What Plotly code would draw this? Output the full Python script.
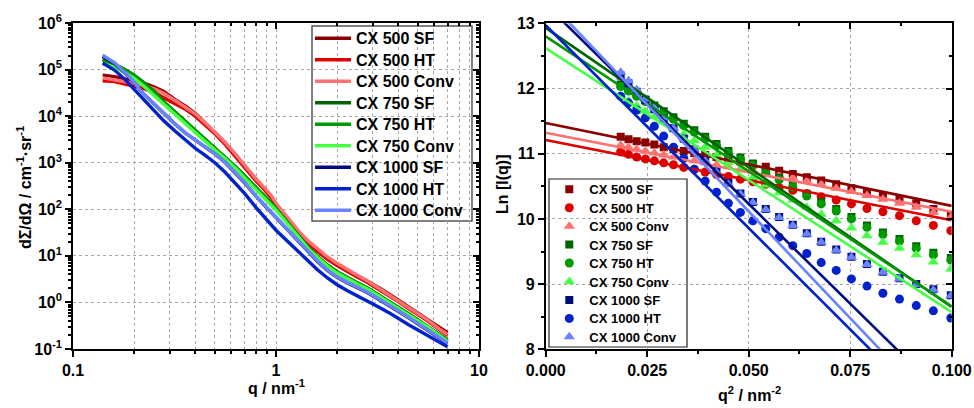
import numpy as np
import plotly.graph_objects as go

W, H = 974, 408

# ---------------- data: left panel (SAXS curves) ----------------
q_left = [0.14, 0.16, 0.18, 0.20, 0.22, 0.25, 0.28, 0.32, 0.36, 0.40, 0.45, 0.50, 0.56, 0.63,
          0.70, 0.80, 0.87, 0.95, 1.00, 1.10, 1.20, 1.30, 1.45, 1.60, 1.80, 2.00, 2.25, 2.50,
          2.80, 3.20, 3.60, 4.00, 4.50, 5.00, 5.60, 6.30, 7.00]

# log10 of dSigma/dOmega (cm^-1 sr^-1)
log_500sf = [4.88, 4.85, 4.80, 4.76, 4.72, 4.63, 4.53, 4.35, 4.21, 4.06, 3.85, 3.65, 3.43, 3.17,
             2.92, 2.62, 2.46, 2.26, 2.10, 1.86, 1.65, 1.48, 1.27, 1.12, 0.95, 0.82, 0.69, 0.58,
             0.47, 0.32, 0.18, 0.05, -0.10, -0.22, -0.36, -0.52, -0.65]
log_500ht = [4.76, 4.74, 4.69, 4.65, 4.60, 4.51, 4.40, 4.26, 4.14, 4.00, 3.81, 3.62, 3.40, 3.15,
             2.90, 2.60, 2.44, 2.24, 2.08, 1.85, 1.64, 1.46, 1.25, 1.09, 0.92, 0.79, 0.66, 0.55,
             0.44, 0.29, 0.15, 0.02, -0.13, -0.26, -0.40, -0.57, -0.71]
log_500conv = [4.82, 4.78, 4.74, 4.71, 4.67, 4.59, 4.49, 4.33, 4.19, 4.05, 3.85, 3.66, 3.44, 3.19,
               2.94, 2.64, 2.48, 2.29, 2.13, 1.90, 1.69, 1.52, 1.31, 1.15, 0.97, 0.84, 0.70, 0.59,
               0.47, 0.31, 0.17, 0.04, -0.11, -0.24, -0.38, -0.55, -0.69]
log_750sf = [5.22, 5.12, 5.00, 4.88, 4.74, 4.54, 4.31, 4.08, 3.88, 3.70, 3.50, 3.33, 3.14, 2.92,
             2.72, 2.45, 2.30, 2.13, 2.02, 1.80, 1.60, 1.42, 1.17, 0.99, 0.80, 0.66, 0.53, 0.43,
             0.32, 0.17, 0.03, -0.10, -0.24, -0.37, -0.51, -0.67, -0.81]
log_750ht = [5.21, 5.11, 4.99, 4.87, 4.73, 4.53, 4.30, 4.07, 3.87, 3.69, 3.49, 3.32, 3.13, 2.91,
             2.71, 2.44, 2.29, 2.12, 2.01, 1.79, 1.59, 1.41, 1.16, 0.98, 0.79, 0.65, 0.52, 0.42,
             0.31, 0.16, 0.02, -0.11, -0.25, -0.38, -0.52, -0.68, -0.82]
log_750conv = [5.13, 5.05, 4.94, 4.81, 4.67, 4.45, 4.24, 4.02, 3.83, 3.65, 3.45, 3.28, 3.09, 2.88,
               2.68, 2.41, 2.26, 2.09, 1.98, 1.77, 1.57, 1.40, 1.14, 0.97, 0.77, 0.63, 0.50, 0.40,
               0.30, 0.14, 0.01, -0.12, -0.26, -0.39, -0.53, -0.69, -0.84]
log_1000sf = [5.28, 5.13, 4.93, 4.72, 4.50, 4.27, 4.05, 3.82, 3.63, 3.48, 3.33, 3.19, 3.01, 2.78,
              2.57, 2.27, 2.10, 1.92, 1.82, 1.63, 1.45, 1.29, 1.07, 0.88, 0.68, 0.54, 0.42, 0.32,
              0.22, 0.07, -0.06, -0.19, -0.33, -0.46, -0.60, -0.75, -0.88]
log_1000ht = [5.14, 4.99, 4.79, 4.58, 4.37, 4.13, 3.90, 3.67, 3.47, 3.31, 3.15, 3.00, 2.80, 2.56,
              2.34, 2.03, 1.85, 1.66, 1.55, 1.38, 1.22, 1.08, 0.87, 0.70, 0.52, 0.38, 0.25, 0.15,
              0.04, -0.10, -0.22, -0.35, -0.48, -0.59, -0.71, -0.84, -0.95]
log_1000conv = [5.31, 5.15, 4.94, 4.73, 4.50, 4.27, 4.05, 3.82, 3.63, 3.48, 3.33, 3.19, 3.01, 2.79,
                2.58, 2.28, 2.11, 1.93, 1.83, 1.64, 1.46, 1.30, 1.08, 0.89, 0.69, 0.55, 0.43, 0.33,
                0.23, 0.08, -0.05, -0.18, -0.32, -0.45, -0.59, -0.74, -0.87]

# ---------------- data: right panel (Guinier plot) ----------------
q2 = [0.01847, 0.02039, 0.02241, 0.02455, 0.02676, 0.02907, 0.03147, 0.03400, 0.03660, 0.03928,
      0.04207, 0.04499, 0.04796, 0.05103, 0.05420, 0.05750, 0.06086, 0.06431, 0.06786, 0.07156,
      0.07530, 0.07913, 0.08306, 0.08714, 0.09127, 0.09548, 0.09979]
ln_500sf = [11.26, 11.22, 11.19, 11.17, 11.14, 11.10, 11.07, 11.04, 11.01, 10.98, 10.95, 10.91, 10.88,
            10.84, 10.80, 10.74, 10.69, 10.64, 10.59, 10.53, 10.47, 10.41, 10.36, 10.30, 10.24, 10.15, 10.06]
ln_500ht = [11.03, 10.99, 10.95, 10.92, 10.89, 10.86, 10.83, 10.79, 10.76, 10.72, 10.68, 10.65, 10.61,
            10.57, 10.53, 10.48, 10.44, 10.39, 10.34, 10.29, 10.23, 10.16, 10.11, 10.05, 9.97, 9.90, 9.82]
ln_500conv = [11.13, 11.10, 11.07, 11.04, 11.01, 10.98, 10.95, 10.92, 10.89, 10.86, 10.83, 10.80, 10.77,
              10.74, 10.71, 10.67, 10.63, 10.58, 10.53, 10.47, 10.42, 10.36, 10.30, 10.24, 10.18, 10.10, 10.02]
ln_750sf = [12.06, 11.99, 11.91, 11.83, 11.74, 11.65, 11.56, 11.46, 11.36, 11.26, 11.15, 11.04, 10.94,
            10.85, 10.74, 10.63, 10.52, 10.38, 10.26, 10.15, 10.03, 9.90, 9.79, 9.69, 9.58, 9.48, 9.40]
ln_750ht = [12.03, 11.96, 11.88, 11.80, 11.71, 11.62, 11.53, 11.43, 11.33, 11.23, 11.12, 11.01, 10.91,
            10.82, 10.71, 10.60, 10.49, 10.35, 10.23, 10.12, 10.00, 9.87, 9.76, 9.66, 9.55, 9.45, 9.37]
ln_750conv = [11.88, 11.81, 11.73, 11.65, 11.57, 11.49, 11.40, 11.30, 11.20, 11.10, 10.98, 10.87, 10.75,
              10.64, 10.52, 10.40, 10.29, 10.18, 10.07, 9.97, 9.86, 9.74, 9.64, 9.55, 9.45, 9.34, 9.23]
ln_1000sf = [12.20, 12.08, 11.95, 11.82, 11.68, 11.54, 11.39, 11.23, 11.07, 10.91, 10.73, 10.55, 10.39,
             10.26, 10.15, 10.03, 9.91, 9.78, 9.65, 9.53, 9.42, 9.31, 9.19, 9.09, 9.00, 8.92, 8.83]
ln_1000ht = [11.88, 11.78, 11.67, 11.55, 11.42, 11.27, 11.10, 10.93, 10.76, 10.58, 10.41, 10.24, 10.10,
             9.97, 9.85, 9.72, 9.59, 9.47, 9.33, 9.21, 9.08, 8.97, 8.86, 8.77, 8.67, 8.59, 8.48]
ln_1000conv = [12.25, 12.12, 11.98, 11.84, 11.70, 11.55, 11.39, 11.23, 11.06, 10.89, 10.71, 10.53, 10.38,
               10.25, 10.14, 10.02, 9.90, 9.77, 9.64, 9.52, 9.41, 9.30, 9.18, 9.08, 8.99, 8.91, 8.82]

# Guinier fit lines: Ln I at q^2 = 0 and q^2 = 0.1
fit_q2 = [0.0, 0.1]
fit_500sf = [11.47, 10.20]
fit_500ht = [11.21, 9.98]
fit_500conv = [11.32, 10.11]
fit_750sf = [12.93, 8.65]
fit_750ht = [12.80, 8.66]
fit_750conv = [12.62, 8.57]
fit_1000sf = [13.29, 7.17]
fit_1000ht = [12.97, 6.75]
fit_1000conv = [13.39, 6.84]

names = ["CX 500 SF", "CX 500 HT", "CX 500 Conv", "CX 750 SF", "CX 750 HT", "CX 750 Conv",
         "CX 1000 SF", "CX 1000 HT", "CX 1000 Conv"]
colors = ["#8B0000", "#DD0000", "#FF7070", "#006400", "#009A00", "#44FF44",
          "#000C80", "#0022CC", "#6A84FF"]
symbols = ["square", "circle", "triangle-up"] * 3

left_series = [log_500sf, log_500ht, log_500conv, log_750sf, log_750ht, log_750conv,
               log_1000sf, log_1000ht, log_1000conv]
right_series = [ln_500sf, ln_500ht, ln_500conv, ln_750sf, ln_750ht, ln_750conv,
                ln_1000sf, ln_1000ht, ln_1000conv]
fit_series = [fit_500sf, fit_500ht, fit_500conv, fit_750sf, fit_750ht, fit_750conv,
              fit_1000sf, fit_1000ht, fit_1000conv]

FONT = "Liberation Sans, Arial, sans-serif"

fig = go.Figure()

# left panel curves
for i, (nm, col, lg) in enumerate(zip(names, colors, left_series)):
    fig.add_trace(go.Scatter(
        x=q_left, y=10 ** np.array(lg), mode="lines", name=nm,
        line=dict(color=col, width=3.4), xaxis="x", yaxis="y",
        legend="legend" if i == 0 else f"legend{i + 1}"))

# right panel markers
msize = {"square": 8, "circle": 9, "triangle-up": 10}
for i, (nm, col, sym, ln) in enumerate(zip(names, colors, symbols, right_series)):
    fig.add_trace(go.Scatter(
        x=q2, y=ln, mode="markers", name=nm,
        marker=dict(symbol=sym, size=msize[sym], color=col, line=dict(width=0)),
        xaxis="x2", yaxis="y2", legend=f"legend{i + 10}"))

# right panel fit lines
for nm, col, ft in zip(names, colors, fit_series):
    fig.add_trace(go.Scatter(
        x=fit_q2, y=ft, mode="lines", name=nm + " fit", showlegend=False,
        line=dict(color=col, width=2.6), xaxis="x2", yaxis="y2"))

# empty helper traces so that the mirror-tick axes (top/right) get drawn
for xa, ya in (("x3", "y3"), ("x4", "y4")):
    fig.add_trace(go.Scatter(x=[None], y=[None], mode="lines", showlegend=False,
                             hoverinfo="skip", xaxis=xa, yaxis=ya))

# ---------------- layout ----------------
def px_x(p):
    return p / W

def px_y(p):
    return 1 - p / H

grid = dict(showgrid=True, gridcolor="#a8a8a8", griddash="dot", gridwidth=1)
line = dict(showline=True, linecolor="black", linewidth=1.6, mirror=True, zeroline=False,
            automargin=False)
tickf = dict(size=16, color="black", family=FONT, weight="bold")

xminor_vals = [0.2, 0.3, 0.4, 0.5, 0.6, 0.7, 0.8, 0.9, 2, 3, 4, 5, 6, 7, 8, 9]
yminor_vals = [m * 10.0 ** e for e in range(-1, 6) for m in range(2, 10)]

LX = [px_x(73), px_x(479)]
LY = [px_y(349), px_y(23)]
RX = [px_x(545.7), px_x(951.7)]
RY = [px_y(349.3), px_y(23.3)]

mirror_common = dict(ticks="inside", tickwidth=1.5, tickcolor="black", showticklabels=False,
                     showgrid=False, zeroline=False, automargin=False, showline=False,
                     fixedrange=True)

layout = dict(
    width=W, height=H, margin=dict(l=0, r=0, t=0, b=0, autoexpand=False),
    paper_bgcolor="white", plot_bgcolor="white", showlegend=True,
    font=dict(family=FONT, size=16, color="black", weight="bold"),
    xaxis=dict(domain=LX, type="log", range=[-1, 1],
               tickmode="array", tickvals=[0.1, 1, 10], ticktext=["0.1", "1", "10"],
               ticks="outside", ticklen=6, tickwidth=1.5, tickcolor="black", tickfont=tickf,
               minor=dict(tickvals=xminor_vals, ticks="outside", ticklen=3, tickcolor="black",
                          showgrid=True, gridcolor="#a8a8a8", griddash="dot"),
               anchor="y", **grid, **line),
    yaxis=dict(domain=LY, type="log", range=[-1, 6],
               tickmode="array", tickvals=[10.0 ** e for e in range(-1, 7)],
               ticktext=[f"10<sup>{e}</sup>" for e in range(-1, 7)],
               ticks="outside", ticklen=6, tickwidth=1.5, tickcolor="black", tickfont=tickf,
               minor=dict(tickvals=yminor_vals, ticks="outside", ticklen=3, tickcolor="black",
                          showgrid=False),
               anchor="x", **grid, **line),
    xaxis2=dict(domain=RX, range=[0, 0.1],
                tickmode="array", tickvals=[0, 0.025, 0.05, 0.075, 0.1],
                ticktext=["0.000", "0.025", "0.050", "0.075", "0.100"],
                ticks="outside", ticklen=6, tickwidth=1.5, tickcolor="black", tickfont=tickf,
                minor=dict(tickvals=[0.0125, 0.0375, 0.0625, 0.0875], ticks="outside", ticklen=3,
                           tickcolor="black", showgrid=False),
                anchor="y2", **grid, **line),
    yaxis2=dict(domain=RY, range=[8, 13],
                tickmode="array", tickvals=[8, 9, 10, 11, 12, 13],
                ticks="outside", ticklen=6, tickwidth=1.5, tickcolor="black", tickfont=tickf,
                minor=dict(tickvals=[8.5, 9.5, 10.5, 11.5, 12.5], ticks="outside", ticklen=3,
                           tickcolor="black", showgrid=False),
                anchor="x2", **grid, **line),
    # inward mirror ticks on top / right edges
    xaxis3=dict(overlaying="x", side="top", anchor="y3", type="log", range=[-1, 1],
                tickmode="array", tickvals=[0.1, 1, 10], ticklen=6,
                minor=dict(tickvals=xminor_vals, ticks="inside", ticklen=3, tickcolor="black",
                           showgrid=False), **mirror_common),
    yaxis3=dict(overlaying="y", side="right", anchor="x3", type="log", range=[-1, 6],
                tickmode="array", tickvals=[10.0 ** e for e in range(-1, 7)], ticklen=6,
                minor=dict(tickvals=yminor_vals, ticks="inside", ticklen=3, tickcolor="black",
                           showgrid=False), **mirror_common),
    xaxis4=dict(overlaying="x2", side="top", anchor="y4", range=[0, 0.1],
                tickmode="array", tickvals=[0, 0.025, 0.05, 0.075, 0.1], ticklen=6,
                minor=dict(tickvals=[0.0125, 0.0375, 0.0625, 0.0875], ticks="inside", ticklen=3,
                           tickcolor="black", showgrid=False), **mirror_common),
    yaxis4=dict(overlaying="y2", side="right", anchor="x4", range=[8, 13],
                tickmode="array", tickvals=[8, 9, 10, 11, 12, 13], ticklen=6,
                minor=dict(tickvals=[8.5, 9.5, 10.5, 11.5, 12.5], ticks="inside", ticklen=3,
                           tickcolor="black", showgrid=False), **mirror_common),
)

# one legend per entry for exact spacing
for i in range(9):
    key = "legend" if i == 0 else f"legend{i + 1}"
    layout[key] = dict(x=px_x(310), y=px_y(38.3 + 21.5 * i), xanchor="left", yanchor="middle",
                       bgcolor="rgba(0,0,0,0)", borderwidth=0, itemwidth=36,
                       font=dict(size=16, family=FONT, color="black", weight="bold"))
for i in range(9):
    key = f"legend{i + 10}"
    layout[key] = dict(x=px_x(549.3), y=px_y(189.3 + 18.45 * i), xanchor="left", yanchor="middle",
                       bgcolor="rgba(0,0,0,0)", borderwidth=0, itemwidth=30,
                       font=dict(size=13, family=FONT, color="black", weight="bold"))

layout["shapes"] = [
    dict(type="rect", xref="paper", yref="paper", x0=px_x(312), x1=px_x(472), y0=px_y(221), y1=px_y(26),
         line=dict(color="#555555", width=1.5), fillcolor="white", layer="between"),
    dict(type="rect", xref="paper", yref="paper", x0=px_x(549), x1=px_x(687), y0=px_y(347), y1=px_y(179),
         line=dict(color="#222222", width=1.2), fillcolor="white", layer="between"),
]

layout["annotations"] = [
    dict(text="q / nm<sup>-1</sup>", x=px_x(276), y=px_y(387), xref="paper", yref="paper",
         showarrow=False, xanchor="center", yanchor="middle", font=dict(size=16)),
    dict(text="dΣ/dΩ / cm<sup>-1</sup>·sr<sup>-1</sup>", x=px_x(24), y=px_y(188), xref="paper",
         yref="paper", showarrow=False, textangle=-90, xanchor="center", yanchor="middle",
         font=dict(size=16)),
    dict(text="q<sup>2</sup> / nm<sup>-2</sup>", x=px_x(749), y=px_y(394), xref="paper", yref="paper",
         showarrow=False, xanchor="center", yanchor="middle", font=dict(size=16)),
    dict(text="Ln [I(q)]", x=px_x(503), y=px_y(184), xref="paper", yref="paper",
         showarrow=False, textangle=-90, xanchor="center", yanchor="middle", font=dict(size=16)),
]

fig.update_layout(layout)
fig.write_html("out.html", config={"displayModeBar": False},
               post_script="document.body.style.margin='0';document.body.style.overflow='hidden';")
